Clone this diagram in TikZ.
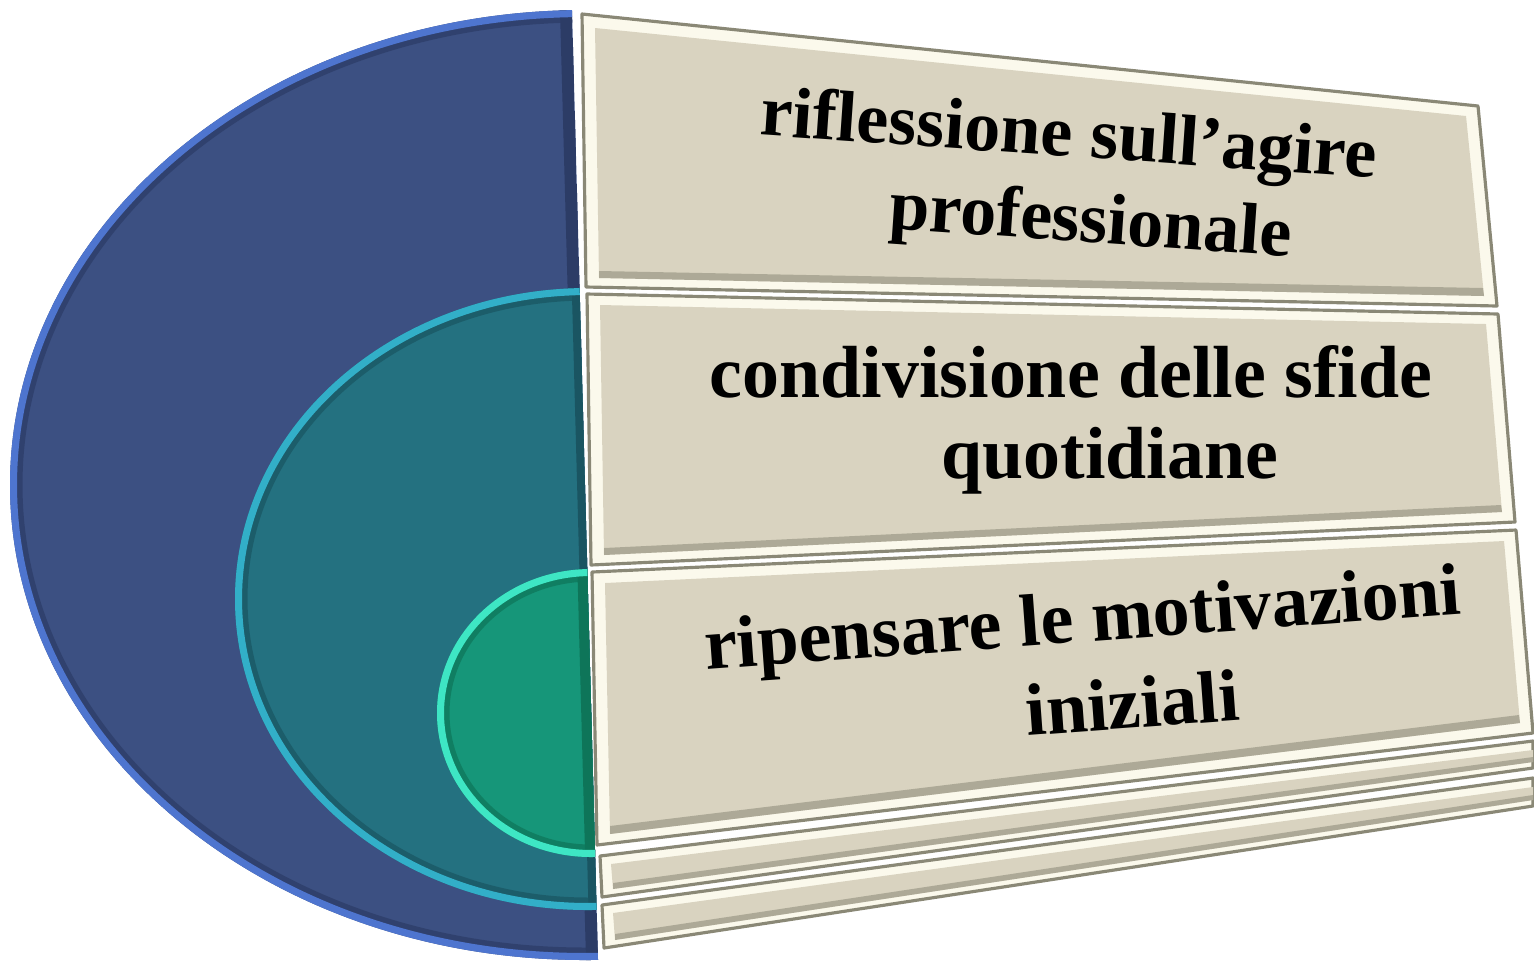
\documentclass[tikz,border=0pt]{standalone}
\usepackage{fontspec}
\setmainfont{Liberation Serif}
\definecolor{bluemain}{HTML}{3C5082}
\definecolor{bluerim}{HTML}{4E75CF}
\definecolor{blueshadow}{HTML}{2C3C66}
\definecolor{tealmain}{HTML}{247180}
\definecolor{tealrim}{HTML}{32AFC8}
\definecolor{tealshadow}{HTML}{1A5562}
\definecolor{greenmain}{HTML}{169679}
\definecolor{greenrim}{HTML}{3EE6C4}
\definecolor{greenshadow}{HTML}{0E7559}
\definecolor{boxfill}{HTML}{D9D3C0}
\definecolor{boxlight}{HTML}{FBF9EC}
\definecolor{boxdark}{HTML}{8A8876}
\tikzset{
  boxframe/.style={fill=boxlight, draw=boxdark, line width=0.9pt, line join=round},
  boxface/.style={fill=boxfill},
  boxshade/.style={fill=boxdark, opacity=0.55},
  lbl/.style={text=black, inner sep=0pt, anchor=north, align=center}
}
\begin{document}
\begin{tikzpicture}[x=0.01cm, y=-0.01cm]
\useasboundingbox (0,0) rectangle (1534,963);

% ---------- nested half discs ----------
\begin{scope}
\clip (0,0) -- (571.7,0) -- (598.1,963) -- (0,963) -- cycle;
% outer blue
\begin{scope}
\clip (585,485) ellipse [x radius=575, y radius=475];
\fill[bluemain] (0,0) rectangle (600,963);
\fill[blueshadow] (559.7,0) -- (571.7,0) -- (598.1,963) -- (586.1,963) -- cycle;
\draw[blueshadow, line width=2pt, opacity=0.7] (585,485) ellipse [x radius=566, y radius=466];
\draw[bluerim, line width=4pt] (585,485) ellipse [x radius=575, y radius=475];
\end{scope}
% middle teal
\begin{scope}
\clip (588,599) ellipse [x radius=353, y radius=311];
\fill[tealmain] (0,0) rectangle (600,963);
\fill[tealshadow] (564,0) -- (578,0) -- (604,963) -- (590,963) -- cycle;
\draw[tealshadow, line width=2pt, opacity=0.7] (588,599) ellipse [x radius=344, y radius=302];
\draw[tealrim, line width=4pt] (588,599) ellipse [x radius=353, y radius=311];
\end{scope}
% inner green
\begin{scope}
\clip (591,713) ellipse [x radius=154, y radius=144];
\fill[greenmain] (0,0) rectangle (600,963);
\fill[greenshadow] (562,0) -- (576,0) -- (602,963) -- (588,963) -- cycle;
\draw[greenshadow, line width=2pt, opacity=0.7] (591,713) ellipse [x radius=145, y radius=135];
\draw[greenrim, line width=4pt] (591,713) ellipse [x radius=154, y radius=144];
\end{scope}
\end{scope}

% ---------- beveled boxes ----------
% box 1
\filldraw[boxframe] (582,14) -- (1478,106) -- (1497,306) -- (586,287) -- cycle;
\fill[boxface] (595,28) -- (1466,116) -- (1484,296) -- (599,278) -- cycle;
\fill[boxshade] (599,278) -- (1484,296) -- (1483,288) -- (599,271) -- cycle;
% box 2
\filldraw[boxframe] (587,294) -- (1498,314) -- (1515,522) -- (591,565) -- cycle;
\fill[boxface] (600,305) -- (1486,324) -- (1502,512) -- (604,555) -- cycle;
\fill[boxshade] (604,555) -- (1502,512) -- (1501,505) -- (604,548) -- cycle;
% box 3
\filldraw[boxframe] (592,572) -- (1516,530) -- (1533,733) -- (597,845) -- cycle;
\fill[boxface] (605,583) -- (1504,541) -- (1520,723) -- (610,834) -- cycle;
\fill[boxshade] (610,834) -- (1520,723) -- (1519,715) -- (610,826) -- cycle;
% strip 1
\filldraw[boxframe] (600,856) -- (1533,741) -- (1533,768) -- (602,897) -- cycle;
\fill[boxface] (611,864) -- (1533,750) -- (1533,762) -- (613,889) -- cycle;
\fill[boxshade] (613,889) -- (1533,762) -- (1533,757) -- (613,883) -- cycle;
% strip 2
\filldraw[boxframe] (602,905) -- (1533,778) -- (1533,806) -- (604,948) -- cycle;
\fill[boxface] (613,913) -- (1533,787) -- (1533,800) -- (615,940) -- cycle;
\fill[boxshade] (615,940) -- (1533,800) -- (1533,795) -- (615,934) -- cycle;

% ---------- texts ----------
\node[lbl, rotate=-4, font=\fontsize{20.5}{24}\selectfont\bfseries] (t1) at (1071,105)
  {riflessione sull’agire\\\hspace*{16pt}professionale};
\node[lbl, font=\fontsize{21}{23}\selectfont\bfseries] (t2) at (1071,345)
  {condivisione delle sfide\\\hspace*{22pt}quotidiane};
\node[lbl, rotate=4.2, font=\fontsize{21}{25.5}\selectfont\bfseries] (t3) at (1080,590)
  {ripensare le motivazioni\\\hspace*{25pt}iniziali};
\end{tikzpicture}
\end{document}
